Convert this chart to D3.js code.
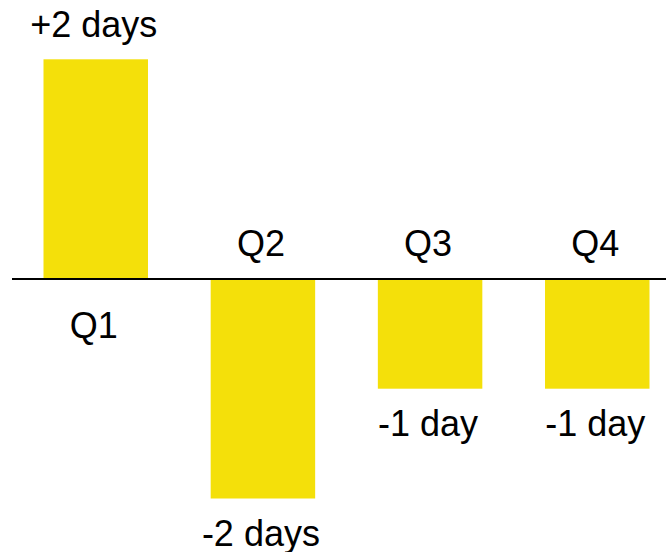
<!DOCTYPE html>
<html>
<head>
<meta charset="utf-8">
<script src="https://cdn.jsdelivr.net/npm/d3@7"></script>
<style>
html,body{margin:0;padding:0;background:#fff;}
svg{display:block;}
text{font-family:"Liberation Sans",Arial,sans-serif;fill:#000;}
</style>
</head>
<body>
<svg id="chart" width="666" height="552"></svg>
<script>
const categories = ["Q1","Q2","Q3","Q4"];
const values = [2,-2,-1,-1];
const valueLabels = ["+2 days","-2 days","-1 day","-1 day"];

const svg = d3.select("#chart");
const x = d3.scaleBand().domain(categories).range([43.5,649.5]).paddingInner(0.375).paddingOuter(0);
const y = d3.scaleLinear().domain([-2,2]).range([498.5,59.3]);

const data = categories.map((c,i)=>({c, v:values[i], label:valueLabels[i]}));

svg.selectAll("rect.bar").data(data).enter().append("rect")
  .attr("class","bar")
  .attr("x",d=>x(d.c))
  .attr("width",x.bandwidth())
  .attr("y",d=>y(Math.max(0,d.v)))
  .attr("height",d=>Math.abs(y(d.v)-y(0)))
  .attr("fill","#f4e00a");

svg.append("line")
  .attr("x1",12).attr("x2",666)
  .attr("y1",y(0)).attr("y2",y(0))
  .attr("stroke","#000").attr("stroke-width",2);

// value labels
svg.selectAll("text.val").data(data).enter().append("text")
  .attr("class","val")
  .attr("x",d=>x(d.c)+x.bandwidth()/2 - 2)
  .attr("y",d=>d.v>=0 ? y(d.v)-22 : y(d.v)+47)
  .attr("text-anchor","middle")
  .attr("font-size",36)
  .text(d=>d.label);

// category labels
svg.selectAll("text.cat").data(data).enter().append("text")
  .attr("class","cat")
  .attr("x",d=>x(d.c)+x.bandwidth()/2 - 2)
  .attr("y",d=>d.v>=0 ? y(0)+59 : y(0)-23)
  .attr("text-anchor","middle")
  .attr("font-size",36)
  .text(d=>d.c);
</script>
</body>
</html>
